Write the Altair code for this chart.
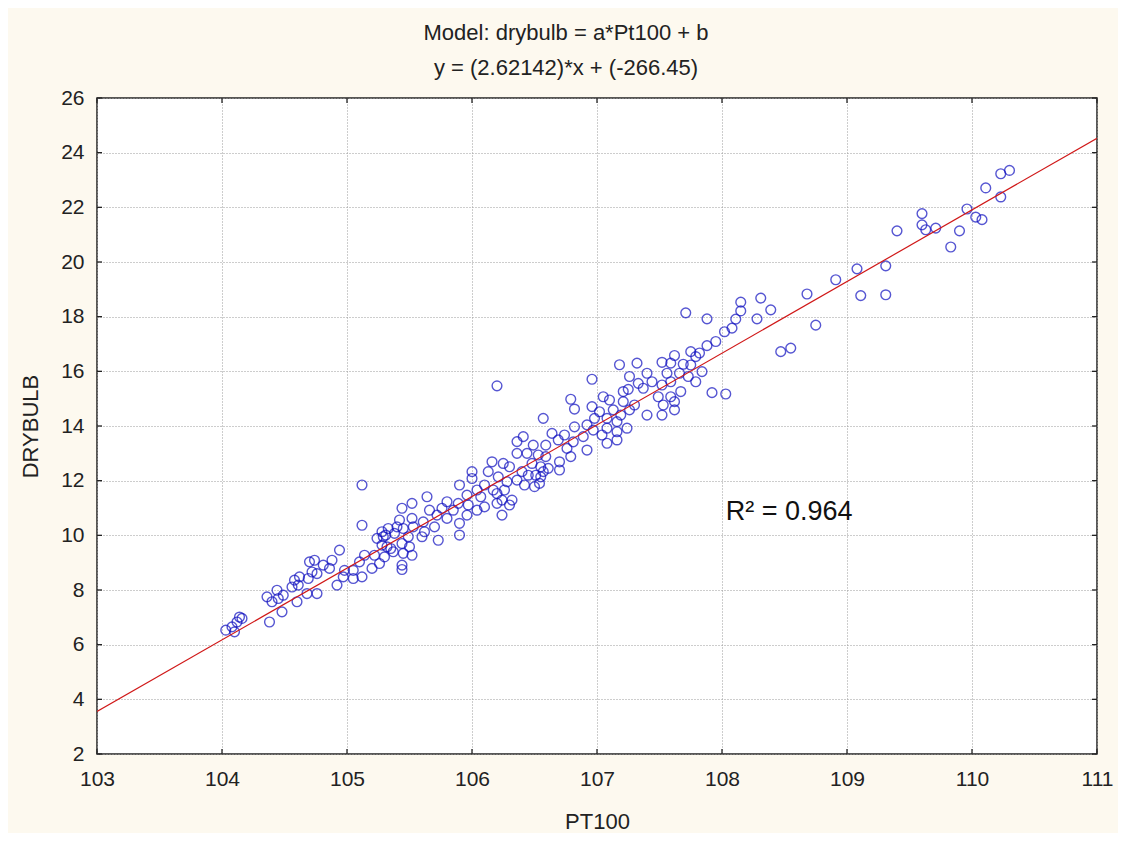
import altair as alt
import pandas as pd

# ---- data ----
pt100 = [
    110.30, 110.23, 110.11, 110.23, 109.96, 110.03, 110.08, 109.60, 109.60, 109.63,
    109.71, 109.40, 109.90, 109.83, 109.31, 109.31, 109.08, 108.91, 109.11, 108.68,
    108.75, 108.47, 108.55, 108.31, 108.39, 108.28, 108.15, 108.15, 108.11, 108.08,
    108.02, 107.95, 107.88, 107.88, 107.84, 107.92, 108.03, 107.82, 107.71,
    107.18, 107.32, 106.96, 107.52, 107.62, 107.75, 107.79, 107.69, 107.75, 107.59,
    107.26, 107.40, 107.56, 107.66, 107.33, 107.44, 107.37, 107.25, 107.52, 107.59,
    107.79, 107.73, 107.67, 107.59, 107.62, 107.49, 107.53, 107.62, 107.52, 107.40,
    107.30, 107.21, 107.21, 107.26, 107.19, 107.10, 107.05, 107.13, 106.79, 106.82,
    106.96, 107.02, 106.98, 107.08, 107.16, 107.24, 107.08, 107.16, 107.04, 107.16,
    107.08, 106.97, 106.92, 106.82, 106.89, 106.81, 106.92, 106.74, 106.64, 106.69,
    106.59, 106.76, 106.79, 106.59, 106.70, 106.70, 106.57, 106.55, 106.55, 106.54,
    106.36, 106.41, 106.49, 106.44, 106.36, 106.53, 106.16, 106.25, 106.30, 106.40,
    106.48, 106.45, 106.51, 106.57, 106.61, 106.42, 106.50, 106.36, 106.28, 106.21,
    106.17, 106.10, 106.13, 106.00, 106.00, 105.90, 106.04, 105.96, 106.07, 106.20,
    106.26, 106.32, 106.24, 106.30, 106.20, 106.10, 106.24, 106.04, 105.97, 105.89,
    105.96, 105.90, 105.90, 105.85, 105.80, 105.76, 105.80, 105.72, 105.66, 105.70,
    105.73, 105.64, 105.61, 105.62, 105.52, 105.44, 105.52, 105.42, 105.53, 105.45,
    105.40, 105.38, 105.33, 105.29, 105.24, 105.60, 105.49, 105.44, 105.32, 105.50,
    105.37, 105.45, 105.30, 105.22, 105.26, 105.44,
    105.12, 105.12, 105.28, 105.31, 105.28, 105.35, 105.52, 105.20, 105.44, 105.14,
    105.10, 105.05, 105.05, 105.12, 104.98, 104.94, 104.88, 104.81, 104.86, 104.74,
    104.70, 104.72, 104.76, 104.92, 104.97, 104.69, 104.62, 104.58, 104.56, 104.61,
    104.68, 104.76, 104.60, 104.49, 104.44, 104.36, 104.45, 104.40, 104.48, 104.38,
    104.14, 104.12, 104.08, 104.10, 104.03, 104.16, 106.20,
]
drybulb = [
    23.35, 23.23, 22.71, 22.38, 21.94, 21.64, 21.55, 21.77, 21.36, 21.18,
    21.24, 21.14, 21.14, 20.55, 19.86, 18.80, 19.75, 19.35, 18.77, 18.83,
    17.69, 16.72, 16.85, 18.68, 18.25, 17.92, 18.53, 18.21, 17.91, 17.58,
    17.45, 17.09, 16.94, 17.92, 15.99, 15.22, 15.17, 16.67, 18.14,
    16.24, 16.30, 15.71, 16.33, 16.58, 16.72, 16.54, 16.26, 16.23, 16.30,
    15.81, 15.93, 15.93, 15.93, 15.56, 15.62, 15.38, 15.34, 15.50, 15.62,
    15.62, 15.81, 15.26, 15.07, 14.89, 15.07, 14.77, 14.59, 14.40, 14.40,
    14.77, 15.26, 14.89, 14.59, 14.40, 14.95, 15.07, 14.59, 14.98, 14.62,
    14.71, 14.52, 14.28, 14.28, 14.16, 13.92, 13.92, 13.79, 13.67, 13.49,
    13.37, 13.85, 14.04, 13.97, 13.61, 13.42, 13.12, 13.67, 13.73, 13.49,
    13.30, 13.18, 12.88, 12.88, 12.69, 12.39, 14.28, 12.51, 12.14, 11.90,
    13.43, 13.61, 13.30, 13.00, 13.00, 12.94, 12.69, 12.63, 12.51, 12.33,
    12.63, 12.20, 12.20, 12.33, 12.45, 11.84, 11.78, 12.02, 11.96, 12.14,
    11.66, 11.84, 12.33, 12.33, 12.08, 11.84, 11.66, 11.47, 11.41, 11.53,
    11.66, 11.29, 11.29, 11.11, 11.17, 11.04, 10.74, 10.92, 11.11, 11.17,
    10.74, 10.44, 10.01, 10.92, 11.23, 10.99, 10.62, 10.74, 10.92, 10.31,
    9.82, 11.41, 10.49, 10.13, 11.17, 10.99, 10.62, 10.56, 10.31, 10.25,
    10.31, 10.07, 10.25, 9.95, 9.89, 9.95, 9.95, 9.70, 9.58, 9.58,
    9.40, 9.34, 9.21, 9.27, 8.97, 8.91,
    11.84, 10.37, 10.13, 10.01, 9.64, 9.52, 9.27, 8.79, 8.75, 9.27,
    9.03, 8.72, 8.42, 8.48, 8.72, 9.46, 9.09, 8.91, 8.79, 9.09,
    9.03, 8.66, 8.60, 8.18, 8.48, 8.42, 8.48, 8.36, 8.11, 8.18,
    7.87, 7.87, 7.57, 7.81, 7.99, 7.75, 7.69, 7.57, 7.20, 6.83,
    7.01, 6.83, 6.65, 6.47, 6.53, 6.96, 15.47,
]

slope = 2.62142
intercept = -266.45
fit_x = [103, 111]
x_ticks = [103, 104, 105, 106, 107, 108, 109, 110, 111]
y_ticks = [2, 4, 6, 8, 10, 12, 14, 16, 18, 20, 22, 24, 26]
title_lines = ["Model: drybulb = a*Pt100 + b", "y = (2.62142)*x + (-266.45)"]
r2_label = ["R\u00b2 = 0.964"]
r2_pos_x = [108.03]
r2_pos_y = [10.56]

FONT = "Liberation Sans"
W, H = 1000, 656

pts = pd.DataFrame({"PT100": pt100, "DRYBULB": drybulb})
fit = pd.DataFrame({"PT100": fit_x, "DRYBULB": [slope * v + intercept for v in fit_x]})
r2 = pd.DataFrame({"PT100": r2_pos_x, "DRYBULB": r2_pos_y, "label": r2_label})
xt = pd.DataFrame({"PT100": x_ticks})
yt = pd.DataFrame({"DRYBULB": y_ticks})

xscale = alt.Scale(domain=[103, 111], nice=False, zero=False)
yscale = alt.Scale(domain=[2, 26], nice=False, zero=False)

x_axis = alt.Axis(values=x_ticks, format="d", labelPadding=14, titlePadding=22,
                  grid=True, labelFlush=False)
y_axis = alt.Axis(values=y_ticks, format="d", labelPadding=13, titlePadding=18,
                  grid=True, labelFlush=False)

X = alt.X("PT100:Q", scale=xscale, axis=x_axis, title="PT100")
Y = alt.Y("DRYBULB:Q", scale=yscale, axis=y_axis, title="DRYBULB")

points = alt.Chart(pts).mark_point(
    shape="circle", filled=False, color="#1010c0", size=95, strokeWidth=1.4
).encode(x=X, y=Y)

line = alt.Chart(fit).mark_line(color="#d01818", strokeWidth=1.2, clip=True).encode(
    x=X, y=Y)

text = alt.Chart(r2).mark_text(
    align="left", baseline="alphabetic", font=FONT, fontSize=27, color="#111"
).encode(x=X, y=Y, text="label:N")

tick_color = "#222"
xt_bottom = alt.Chart(xt).mark_rule(color=tick_color, strokeWidth=1.3).encode(
    x=X, y=alt.value(H), y2=alt.value(H - 5))
xt_top = alt.Chart(xt).mark_rule(color=tick_color, strokeWidth=1.3).encode(
    x=X, y=alt.value(0), y2=alt.value(5))
yt_left = alt.Chart(yt).mark_rule(color=tick_color, strokeWidth=1.3).encode(
    y=Y, x=alt.value(0), x2=alt.value(5))
yt_right = alt.Chart(yt).mark_rule(color=tick_color, strokeWidth=1.3).encode(
    y=Y, x=alt.value(W), x2=alt.value(W - 5))

chart = alt.layer(points, line, text, xt_bottom, xt_top, yt_left, yt_right).properties(
    width=W,
    height=H,
    background="#fdf9ef",
    padding={"left": 89, "top": 90, "right": 21, "bottom": 79},
    autosize=alt.AutoSizeParams(type="none"),
    title=alt.TitleParams(
        text=title_lines, font=FONT, fontSize=22, fontWeight="normal",
        color="#222", anchor="middle", dx=-31, offset=7, lineHeight=35,
    ),
).configure_view(
    fill="white", stroke="#222", strokeWidth=1.5
).configure_axis(
    labelFont=FONT, labelFontSize=21, labelColor="#222",
    titleFont=FONT, titleFontSize=22, titleFontWeight="normal", titleColor="#222",
    gridColor="#9a9a9a", gridDash=[1, 2], gridWidth=1,
    tickSize=0, domain=False,
)

chart.save("out.html", embed_options={"renderer": "svg", "actions": False})
